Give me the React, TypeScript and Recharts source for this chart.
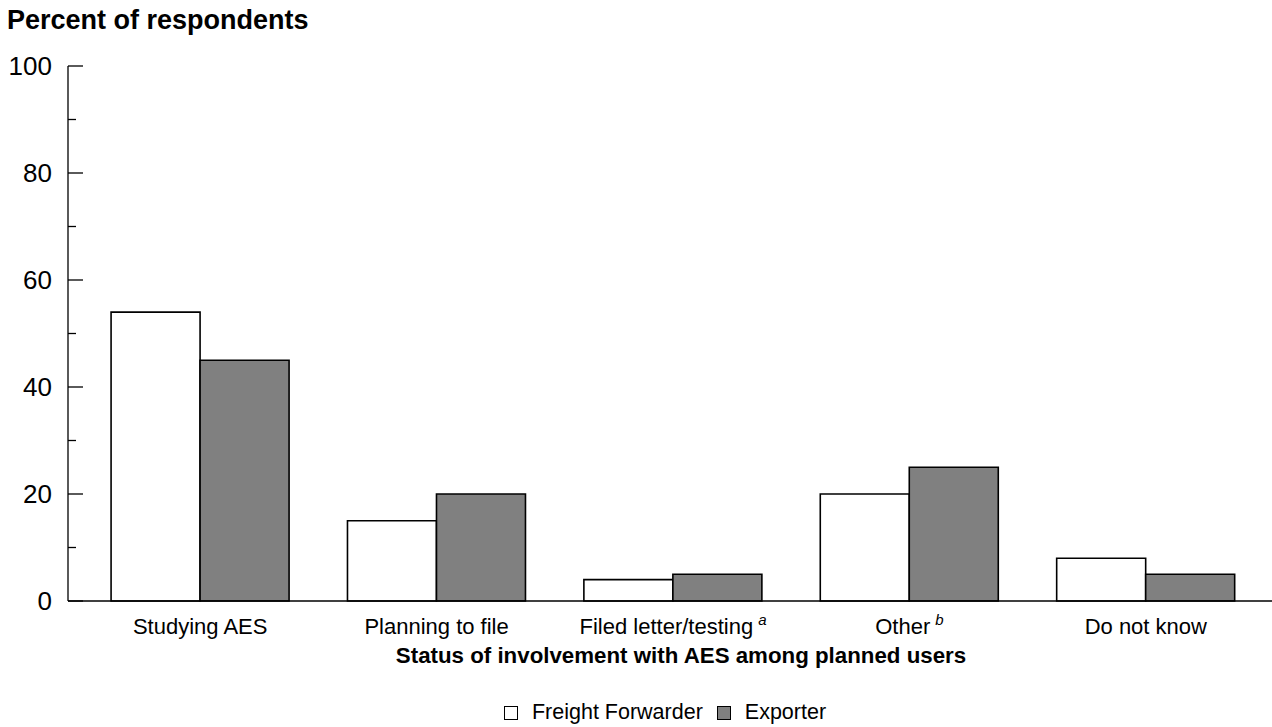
import React from 'react';
import {BarChart, Bar, XAxis, YAxis, Legend, Label} from 'recharts';

// categories along the x axis, with footnote marks
const categories: string[] = ['Studying AES', 'Planning to file', 'Filed letter/testing', 'Other', 'Do not know'];
const footnotes: string[] = ['', '', 'a', 'b', ''];

// percent of respondents
const freightForwarder: number[] = [54, 15, 4, 20, 8];
const exporter: number[] = [45, 20, 5, 25, 5];

const seriesOrder: string[] = ['Freight Forwarder', 'Exporter'];

const yTicks: number[] = [0, 10, 20, 30, 40, 50, 60, 70, 80, 90, 100];

const data = categories.map((c, i) => ({
    name: c,
    note: footnotes[i],
    ff: freightForwarder[i],
    ex: exporter[i],
}));

const FONT = '"Liberation Sans", Arial, Helvetica, sans-serif';

function YTick(props: any) {
    const {x, y, payload} = props;
    const major = payload.value % 20 === 0;
    return (
        <g>
            <line x1={x} x2={x + (major ? 15 : 8)} y1={y} y2={y} stroke="#000" strokeWidth={1.3} />
            {major && (
                <text x={x - 16} y={y} dy="0.36em" textAnchor="end" fontSize={26} fontFamily={FONT} fill="#000">
                    {payload.value}
                </text>
            )}
        </g>
    );
}

function XTick(props: any) {
    const {x, y, payload, index} = props;
    const note = footnotes[index];
    return (
        <text x={x} y={y + 25} textAnchor="middle" fontSize={22} fontFamily={FONT} fill="#000">
            {payload.value}
            {note && (
                <tspan dx={5} dy={-9} fontSize={15} fontStyle="italic">{note}</tspan>
            )}
        </text>
    );
}

function LegendBox(props: any) {
    const items = [...(props.payload || [])].sort(
        (a: any, b: any) => seriesOrder.indexOf(a.value) - seriesOrder.indexOf(b.value)
    );
    return (
        <div style={{height: 30, lineHeight: '30px', textAlign: 'center', fontFamily: FONT, fontSize: 21.5, color: '#000', paddingLeft: 58}}>
            {items.map((it: any, i: number) => (
                <span key={it.value} style={{marginLeft: i === 0 ? 0 : 14}}>
                    <span style={{
                        display: 'inline-block', boxSizing: 'border-box', width: 14, height: 14, border: '1.5px solid #000',
                        background: it.color, marginRight: 14, verticalAlign: '-1px'
                    }} />
                    {it.value}
                </span>
            ))}
        </div>
    );
}

export default function App() {
    return (
        <div style={{position: 'absolute', left: 0, top: 0, width: 1272, height: 727, background: '#fff'}}>
            <div style={{position: 'absolute', left: 7, top: 5, fontFamily: FONT, fontWeight: 'bold', fontSize: 27, color: '#000'}}>
                Percent of respondents
            </div>
            <BarChart
                width={1272}
                height={727}
                data={data}
                margin={{top: 66, right: 0, bottom: 0, left: 0}}
                barCategoryGap="12.3%"
                barGap={0}
            >
                <YAxis
                    width={68}
                    domain={[0, 100]}
                    ticks={yTicks}
                    interval={0}
                    tickLine={false}
                    tickSize={0}
                    tickMargin={0}
                    axisLine={{stroke: '#000', strokeWidth: 1.3}}
                    tick={<YTick />}
                />
                <XAxis
                    dataKey="name"
                    height={96}
                    padding={{left: 14, right: 8}}
                    tickLine={false}
                    axisLine={{stroke: '#000', strokeWidth: 1.3}}
                    tick={<XTick />}
                    interval={0}
                >
                    <Label
                        value="Status of involvement with AES among planned users"
                        position="insideTop"
                        offset={46}
                        dx={11}
                        style={{fontFamily: FONT, fontWeight: 'bold', fontSize: 22.3, fill: '#000'}}
                    />
                </XAxis>
                <Legend verticalAlign="bottom" content={<LegendBox />} />
                <Bar dataKey="ff" name="Freight Forwarder" fill="#ffffff" stroke="#000" strokeWidth={1.6} isAnimationActive={false} />
                <Bar dataKey="ex" name="Exporter" fill="#808080" stroke="#000" strokeWidth={1.6} isAnimationActive={false} />
            </BarChart>
        </div>
    );
}
